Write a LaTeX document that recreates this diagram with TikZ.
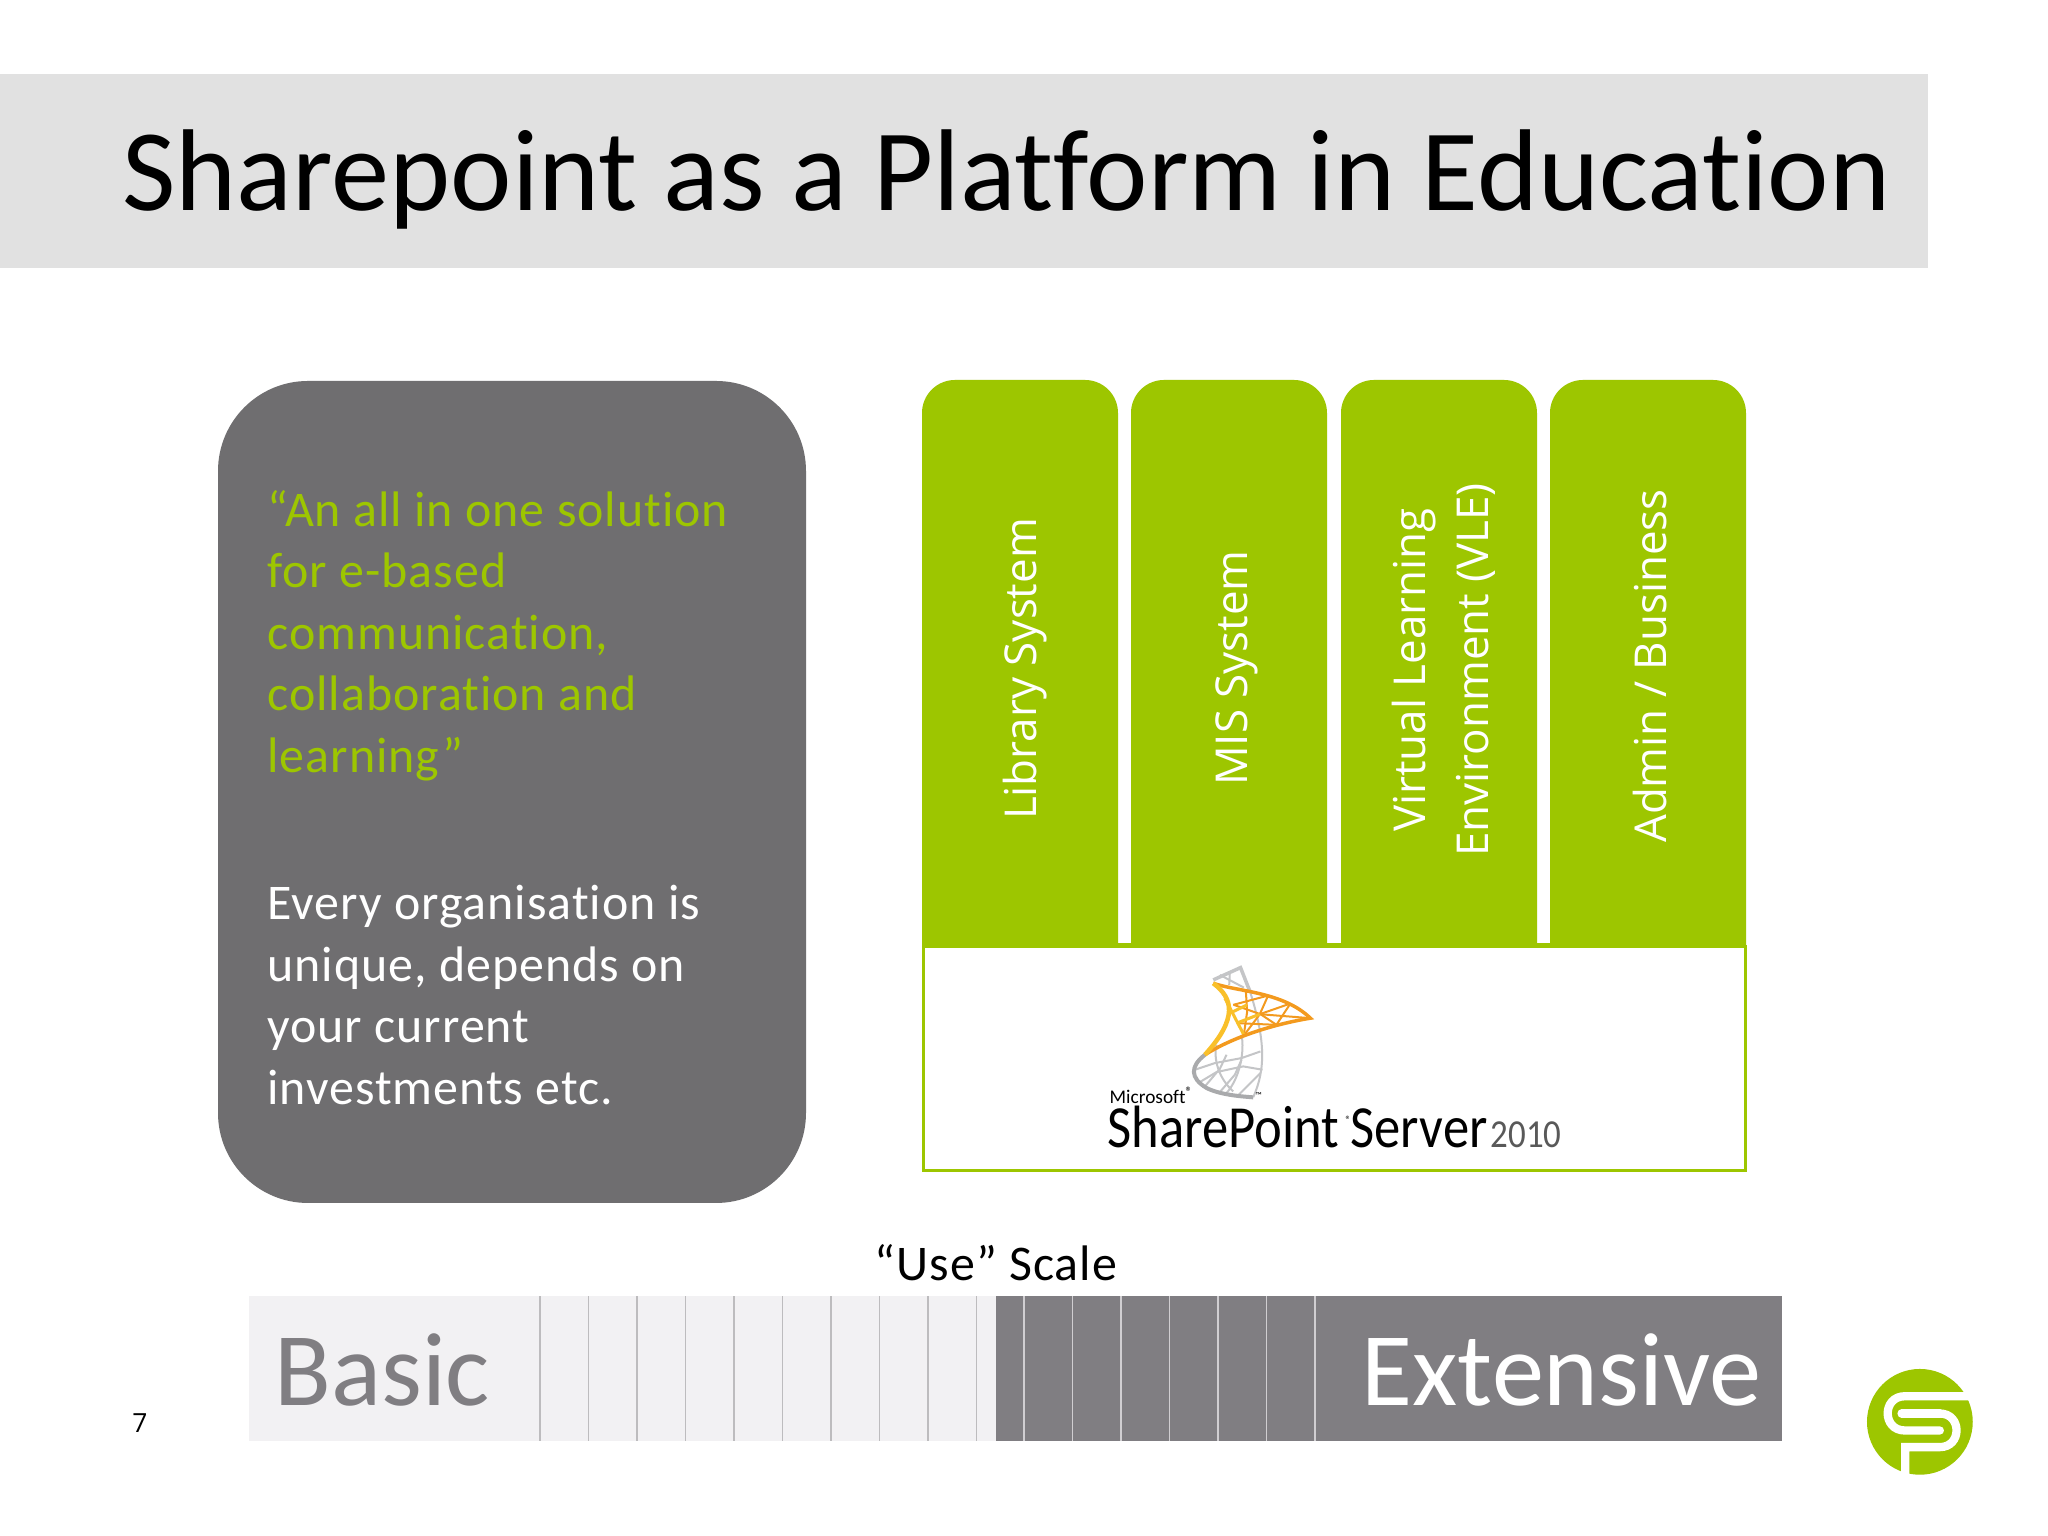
\documentclass[tikz,border=0pt]{standalone}
\usepackage{fontspec}
\usepackage{xcolor}
\setmainfont[Ligatures=NoCommon]{Carlito}
\newfontfamily\labelfont{Open Sans}
\newfontfamily\bodyfont[LetterSpace=2.0,Ligatures=NoCommon]{Carlito}
\usetikzlibrary{positioning, calc}
\definecolor{bandgray}{HTML}{E1E1E1}
\definecolor{boxgray}{HTML}{6F6E70}
\definecolor{limegreen}{HTML}{9DC600}
\definecolor{scalelight}{HTML}{F2F1F3}
\definecolor{scaledark}{HTML}{807E82}
\definecolor{ticklight}{HTML}{BDBCBE}
\definecolor{logoorange}{HTML}{F39A1E}
\definecolor{logoyellow}{HTML}{F9C02A}
\definecolor{logogray}{HTML}{C4C5C7}
\definecolor{logodark}{HTML}{A9AAAC}
\tikzset{
    column/.style={fill=limegreen, draw=none},
    collabel/.style={rotate=90, align=center, text=white, font=\labelfont\fontsize{12.5}{17.8}\selectfont},
    quotetext/.style={align=left, anchor=north west, font=\bodyfont\fontsize{14.2}{17.5}\selectfont},
    tick/.style={draw=ticklight, line width=0.18mm},
    tickdark/.style={draw=scalelight!70!scaledark, line width=0.18mm},
    scaleword/.style={font=\fontsize{29.7}{30}\selectfont},
    logoword/.style={anchor=base west, inner sep=0pt, xscale=0.88, transform shape},
    graybar/.style={draw=logogray, line width=0.35mm},
    orangebar/.style={draw=logoorange, line width=0.35mm},
    spotline/.style={draw=white, line width=0.083cm},
}
\begin{document}
\begin{tikzpicture}
    \useasboundingbox[fill=white] (0,0) rectangle (20.48,15.36);

    % title
    \fill[bandgray] (0,12.68) rectangle (19.28,14.62);
    \node[anchor=base west, font=\fontsize{33.1}{34}\selectfont] (Title) at (1.10,13.25) {Sharepoint as a Platform in Education};

    % left box
    \fill[boxgray, rounded corners=0.9cm] (2.18,3.33) rectangle (8.06,11.55);
    \node[quotetext, text=limegreen] (Quote) at (2.55,10.58) {“An all in one solution\\for e-based\\communication,\\collaboration and\\learning”};
    \node[quotetext, text=white] (Unique) at (2.55,6.63) {Every organisation is\\unique, depends on\\your current\\investments etc.};

    % columns
    \fill[column] (9.22,5.91) [rounded corners=0.33cm] -- (9.22,11.56) -- (11.18,11.56) [sharp corners] -- (11.18,5.91) -- cycle;
    \fill[column] (11.31,5.91) [rounded corners=0.33cm] -- (11.31,11.56) -- (13.27,11.56) [sharp corners] -- (13.27,5.91) -- cycle;
    \fill[column] (13.41,5.91) [rounded corners=0.33cm] -- (13.41,11.56) -- (15.37,11.56) [sharp corners] -- (15.37,5.91) -- cycle;
    \fill[column] (15.50,5.91) [rounded corners=0.33cm] -- (15.50,11.56) -- (17.46,11.56) [sharp corners] -- (17.46,5.91) -- cycle;
    \node[collabel] (Library) at (10.25,8.67) {Library System};
    \node[collabel] (Mis) at (12.37,8.68) {MIS System};
    \node[collabel] (Vle) at (14.44,8.66) {Virtual Learning\\Environment (VLE)};
    \node[collabel] (Admin) at (16.50,8.70) {Admin / Business};

    % platform box
    \draw[limegreen, line width=0.3mm, fill=white] (9.23,3.65) rectangle (17.45,5.89);
    \fill[limegreen] (9.22,5.89) rectangle (17.46,5.93);

    % sharepoint tower
    \begin{scope}[shift={(11.70,5.81)}, x=0.00333cm, y=-0.00333cm]
        \draw[graybar] (130,75) -- (212,38) .. controls (225,70) and (232,90) .. (240,108);
        \draw[graybar, line width=0.2mm] (150,60) -- (222,98);
        \draw[graybar, line width=0.2mm] (180,50) -- (178,90);
        \draw[graybar, line width=0.2mm] (240,108) .. controls (285,250) and (290,340) .. (250,428);
        \draw[graybar, line width=0.2mm] (140,270) .. controls (130,310) and (145,370) .. (190,410);
        \draw[graybar, line width=0.2mm] (215,240) .. controls (225,290) and (210,370) .. (170,415);
        \draw[graybar, line width=0.2mm] (75,345) -- (135,325) -- (215,310) -- (272,290);
        \draw[graybar, line width=0.2mm] (90,382) -- (140,352) -- (220,335) -- (278,345);
        \draw[graybar, line width=0.2mm] (105,395) -- (150,342) -- (170,300);
        \draw[graybar, line width=0.2mm] (150,412) -- (195,360) -- (215,315);
        \draw[graybar, line width=0.2mm] (205,422) -- (272,355);
        \draw[draw=logodark, line width=0.4mm] (105,300) .. controls (60,335) and (60,370) .. (110,400) .. controls (150,420) and (210,425) .. (250,428);
        \draw[orangebar, line width=0.2mm] (228,108) -- (232,170) -- (222,240);
        \draw[orangebar, line width=0.2mm] (295,122) -- (270,178) -- (225,238);
        \draw[orangebar, line width=0.2mm] (362,146) -- (320,210);
        \draw[orangebar, line width=0.2mm] (190,150) -- (295,122);
        \draw[orangebar, line width=0.2mm] (192,150) -- (272,178) -- (320,210);
        \draw[orangebar, line width=0.2mm] (270,178) -- (362,146);
        \draw[orangebar, line width=0.2mm] (200,205) -- (320,210);
        \draw[orangebar, line width=0.2mm] (270,178) -- (422,190);
        \draw[logoyellow, line width=0.3mm] (180,175) -- (232,150) (200,205) -- (270,178) (165,130) -- (222,240);
        \draw[orangebar] (130,85) .. controls (200,110) and (340,110) .. (422,190) .. controls (330,205) and (200,240) .. (105,300);
        \draw[draw=logoyellow, line width=0.45mm] (130,85) .. controls (190,130) and (205,190) .. (105,300);
        \node[font=\fontsize{2.5}{3}\selectfont, inner sep=0pt] (Tm) at (267,424) {™};
    \end{scope}

    \node[anchor=base west, inner sep=0pt, font=\fontsize{5.5}{6}\selectfont] (Microsoft) at (11.09,4.32) {Microsoft\textsuperscript{®}};
    \node[logoword, font=\fontsize{17}{17}\selectfont] (Sharepoint) at (11.07,3.88) {SharePoint};
    \node[anchor=base west, inner sep=0pt, font=\fontsize{3}{3}\selectfont] (Registered) at (13.45,4.12) {®};
    \node[logoword, font=\fontsize{17}{17}\selectfont] (Server) at (13.50,3.88) {Server};
    \node[logoword, text=black!65, font=\fontsize{11.3}{12}\selectfont] (Year) at (14.90,3.88) {2010};

    % use scale
    \node[font=\bodyfont\fontsize{14.2}{14.2}\selectfont] (Use) at (9.96,2.73) {“Use” Scale};
    \fill[scalelight] (2.49,0.95) rectangle (9.96,2.40);
    \fill[scaledark] (9.96,0.95) rectangle (17.82,2.40);
    \draw[tick] (5.40,0.95) -- (5.40,2.40);
    \draw[tick] (5.885,0.95) -- (5.885,2.40);
    \draw[tick] (6.37,0.95) -- (6.37,2.40);
    \draw[tick] (6.855,0.95) -- (6.855,2.40);
    \draw[tick] (7.34,0.95) -- (7.34,2.40);
    \draw[tick] (7.825,0.95) -- (7.825,2.40);
    \draw[tick] (8.31,0.95) -- (8.31,2.40);
    \draw[tick] (8.795,0.95) -- (8.795,2.40);
    \draw[tick] (9.28,0.95) -- (9.28,2.40);
    \draw[tick] (9.765,0.95) -- (9.765,2.40);
    \draw[tickdark] (10.24,0.95) -- (10.24,2.40);
    \draw[tickdark] (10.725,0.95) -- (10.725,2.40);
    \draw[tickdark] (11.21,0.95) -- (11.21,2.40);
    \draw[tickdark] (11.695,0.95) -- (11.695,2.40);
    \draw[tickdark] (12.18,0.95) -- (12.18,2.40);
    \draw[tickdark] (12.665,0.95) -- (12.665,2.40);
    \draw[tickdark] (13.15,0.95) -- (13.15,2.40);
    \node[scaleword, anchor=west, text=scaledark] (Basic) at (2.62,1.66) {Basic};
    \node[scaleword, anchor=east, text=white] (Extensive) at (17.74,1.66) {Extensive};

    % page number
    \node[font=\labelfont\fontsize{7.5}{9}\selectfont] (Page) at (1.40,1.13) {7};

    % corner logo
    \begin{scope}[shift={(18.60,1.76)}, x=0.00333cm, y=-0.00333cm]
        \fill[limegreen] (180,186) circle (159);
        \draw[spotline, line cap=round] (345,109) -- (135,109) .. controls (66,109) and (66,212) .. (135,212) -- (240,212);
        \draw[spotline, line cap=round] (240,161) -- (125,161);
        \draw[spotline] (136,352) -- (136,262) -- (240,262) .. controls (307,262) and (307,161) .. (240,161);
    \end{scope}
\end{tikzpicture}
\end{document}
